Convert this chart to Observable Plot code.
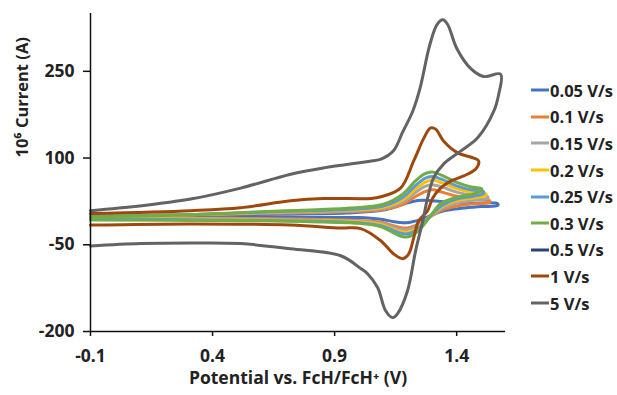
<!DOCTYPE html>
<html>
<head>
<meta charset="utf-8">
<script src="https://cdn.jsdelivr.net/npm/d3@7"></script>
<script src="https://cdn.jsdelivr.net/npm/@observablehq/plot@0.6"></script>
<style>
  body { margin: 0; background: #fff; }
  #wrap { position: relative; width: 617px; height: 395px; font-family: "Open Sans", sans-serif; }
  #legend { position: absolute; left: 530px; top: 77px; font-weight: 700; font-size: 16.5px; color: #222; }
  .item { display: flex; align-items: center; height: 26.6px; white-space: nowrap; }
  .item svg { margin-right: 0px; }
</style>
</head>
<body>
<div id="wrap"><div id="chart"></div><div id="legend"></div></div>
<script>
// Series labels and colours
const seriesNames = ["0.05 V/s","0.1 V/s","0.15 V/s","0.2 V/s","0.25 V/s","0.3 V/s","0.5 V/s","1 V/s","5 V/s"];
const seriesColors = ["#4472C4","#ED7D31","#A5A5A5","#FFC000","#5B9BD5","#70AD47","#264478","#9E480E","#636363"];

// Potential (V), current (10^6 A) pairs, forward scan then reverse scan
const s005 = [[-0.1,0],[0.3,1],[0.7,3],[0.95,5],[1.1,10],[1.18,20],[1.22,25],[1.26,27],[1.3,26],[1.36,24],[1.45,22],[1.568,21],
  [1.568,18],[1.5,16],[1.42,13],[1.34,8],[1.29,0],[1.25,-7],[1.21,-11],[1.18,-12],[1.14,-10],[1.09,-6],[1.0,-3],[0.8,-3],[0.4,-2],[-0.1,-2]];
const s01 = [[-0.1,1],[0.3,2],[0.7,5],[0.95,7],[1.1,11],[1.18,20],[1.23,33],[1.27,42],[1.3,45],[1.34,41],[1.4,34],[1.46,29],[1.535,26],
  [1.535,23],[1.47,21],[1.4,17],[1.34,10],[1.29,-2],[1.25,-13],[1.21,-20],[1.18,-21],[1.14,-17],[1.09,-11],[1.0,-8],[0.8,-6],[0.4,-4],[-0.1,-4]];
const s015 = [[-0.1,0],[0.3,2],[0.7,6],[0.95,8],[1.1,13],[1.18,24],[1.23,40],[1.27,51],[1.3,54],[1.34,50],[1.4,41],[1.46,36],[1.527,33],
  [1.527,30],[1.47,27],[1.4,22],[1.34,13],[1.29,-2],[1.25,-15],[1.21,-23],[1.18,-24],[1.14,-20],[1.09,-13],[1.0,-9],[0.8,-7],[0.4,-5],[-0.1,-5]];
const s02 = [[-0.1,-1],[0.3,2],[0.7,7],[0.95,10],[1.1,15],[1.18,28],[1.23,46],[1.27,58],[1.3,62],[1.34,57],[1.4,47],[1.46,41],[1.519,38],
  [1.519,35],[1.47,31],[1.4,26],[1.34,16],[1.29,-1],[1.25,-17],[1.21,-27],[1.18,-28],[1.14,-23],[1.09,-15],[1.0,-10],[0.8,-8],[0.4,-6],[-0.1,-5]];
const s025 = [[-0.1,-1],[0.3,2],[0.7,8],[0.95,11],[1.1,17],[1.18,32],[1.23,52],[1.27,65],[1.3,68],[1.34,63],[1.4,52],[1.46,45],[1.51,42],
  [1.51,39],[1.47,34],[1.4,29],[1.34,18],[1.29,-1],[1.25,-19],[1.21,-30],[1.18,-31],[1.14,-25],[1.09,-17],[1.0,-12],[0.8,-9],[0.4,-7],[-0.1,-6]];
const s03 = [[-0.1,-2],[0.3,2],[0.7,9],[0.95,13],[1.1,20],[1.18,38],[1.23,60],[1.27,73],[1.3,76],[1.34,70],[1.4,58],[1.46,50],[1.502,47],
  [1.502,44],[1.47,38],[1.4,32],[1.334,21],[1.293,0],[1.252,-22],[1.211,-35],[1.18,-36],[1.14,-29],[1.09,-19],[1.0,-13],[0.8,-10],[0.4,-8],[-0.1,-7]];
const s05 = [];
const s1 = [[-0.1,4],[0.31,9],[0.515,14],[0.72,26],[0.855,30],[1.05,30],[1.09,33],[1.17,48],[1.224,95],[1.265,134],[1.293,152],[1.314,150],[1.347,129],[1.404,109],[1.47,100],[1.49,95],
  [1.478,81],[1.429,69],[1.375,60],[1.334,48],[1.302,31],[1.281,9],[1.244,-9],[1.224,-38],[1.203,-66],[1.179,-74],[1.142,-66],[1.089,-43],[1.007,-22],[0.925,-21],[0.72,-16],[0.31,-14],[-0.1,-16]];
const s5 = [[-0.1,9],[0.1,17],[0.31,29],[0.515,48],[0.72,72],[0.855,83],[1.05,95],[1.09,98],[1.14,112],[1.18,146],[1.22,181],[1.25,221],[1.29,296],[1.32,331],[1.343,339],[1.363,331],[1.4,290],[1.457,255],[1.51,241],[1.58,245],
  [1.572,210],[1.552,181],[1.486,135],[1.416,112],[1.347,90],[1.306,66],[1.281,31],[1.261,-9],[1.232,-60],[1.199,-129],[1.158,-169],[1.138,-176],[1.109,-164],[1.076,-124],[1.035,-100],[1.007,-91],[0.925,-69],[0.72,-57],[0.515,-48],[0.31,-47],[0.105,-48],[-0.1,-52]];

const xTicks = [-0.1, 0.4, 0.9, 1.4];
const yTicks = [-200, -50, 100, 250];
const xTitle = "Potential vs. FcH/FcH⁺ (V)";
const yTitle = "10⁶ Current (A)";

const allSeries = [s005, s01, s015, s02, s025, s03, s05, s1, s5];
const rows = allSeries.flatMap((arr, i) => arr.map(([v, c], j) => ({series: seriesNames[i], v, c, j})));

const font = "Open Sans";
const chart = Plot.plot({
  width: 617, height: 395,
  marginLeft: 90, marginRight: 112, marginTop: 13, marginBottom: 64,
  style: {fontFamily: font, fontWeight: 700, fontSize: "17.5px", color: "#222", background: "#fff"},
  x: {domain: [-0.1, 1.6]},
  y: {domain: [-200, 350]},
  color: {domain: seriesNames, range: seriesColors},
  marks: [
    Plot.line(rows, {x: "v", y: "c", z: "series", stroke: "series", strokeWidth: 3, curve: "catmull-rom"}),
    Plot.ruleX([-0.1], {stroke: "#111", strokeWidth: 1.5}),
    Plot.ruleY([-200], {stroke: "#111", strokeWidth: 1.5}),
    Plot.axisX({ticks: xTicks, tickFormat: d => String(d), tickSize: 5, tickPadding: 13, label: null, stroke: "#111", strokeWidth: 1.5, fontSize: 17.5}),
    Plot.axisY({ticks: yTicks, tickFormat: d => String(d), tickSize: 7, tickPadding: 9, label: null, stroke: "#111", strokeWidth: 1.5, fontSize: 17.5}),
    Plot.text([xTitle], {frameAnchor: "bottom", dy: 52, fontSize: 17.5, fontWeight: 700, fill: "#222"}),
    Plot.text([yTitle], {frameAnchor: "left", dx: -68, dy: -15, rotate: -90, fontSize: 16.5, fontWeight: 700, fill: "#222"})
  ]
});
document.getElementById("chart").appendChild(chart);

const legend = document.getElementById("legend");
seriesNames.forEach((name, i) => {
  const item = document.createElement("div");
  item.className = "item";
  item.innerHTML = `<svg width="20" height="6"><line x1="1" y1="3" x2="19" y2="3" stroke="${seriesColors[i]}" stroke-width="3"/></svg><span>${name}</span>`;
  legend.appendChild(item);
});
</script>
</body>
</html>
